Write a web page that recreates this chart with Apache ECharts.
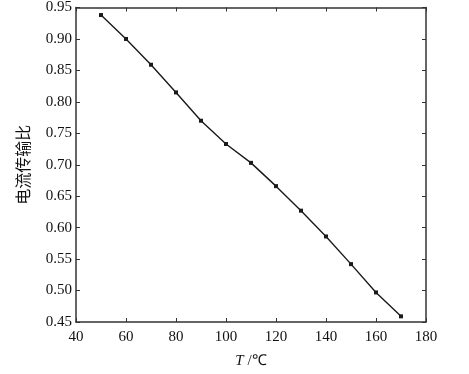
<!DOCTYPE html>
<html>
<head>
<meta charset="utf-8">
<script src="https://cdn.jsdelivr.net/npm/echarts@6/dist/echarts.min.js"></script>
<style>html,body{margin:0;padding:0;background:#fff;}#c{width:469px;height:374px;}</style>
</head>
<body>
<div id="c"></div>
<script>
var temperatures = [50, 60, 70, 80, 90, 100, 110, 120, 130, 140, 150, 160, 170];
var ctrValues = [0.938, 0.900, 0.859, 0.815, 0.770, 0.733, 0.703, 0.666, 0.627, 0.586, 0.542, 0.497, 0.459];
var yAxisName = '电流传输比';
var xAxisNameVar = 'T';
var xAxisUnit = ' /℃';

var chart = echarts.init(document.getElementById('c'));
var serif = '"Liberation Serif", "Times New Roman", serif';
var axisColor = '#333';
var pts = temperatures.map(function (t, i) { return [t, ctrValues[i]]; });

chart.setOption({
  animation: false,
  backgroundColor: '#fff',
  grid: { left: 76, top: 3, right: 43, bottom: 48, containLabel: false },
  xAxis: [{
    type: 'value', min: 40, max: 180, interval: 20, position: 'bottom',
    name: '{i|' + xAxisNameVar + '}{n|' + xAxisUnit + '}',
    nameLocation: 'middle', nameGap: 32,
    nameTextStyle: { rich: {
      i: { fontFamily: serif, fontStyle: 'italic', fontSize: 15, color: '#111' },
      n: { fontFamily: serif, fontSize: 15, color: '#111' } } },
    axisLine: { show: true, lineStyle: { color: axisColor, width: 1.5 } },
    axisTick: { show: true, inside: true, length: 4, lineStyle: { color: axisColor, width: 1 } },
    axisLabel: { fontFamily: serif, fontSize: 15, color: '#111', margin: 8 },
    splitLine: { show: false }
  }, {
    type: 'value', min: 40, max: 180, interval: 20, position: 'top',
    axisLine: { show: true, lineStyle: { color: axisColor, width: 1.5 } },
    axisTick: { show: true, inside: true, length: 4, lineStyle: { color: axisColor, width: 1 } },
    axisLabel: { show: false }, splitLine: { show: false }
  }],
  yAxis: [{
    type: 'value', min: 0.45, max: 0.95, interval: 0.05, position: 'left',
    name: yAxisName, nameLocation: 'middle', nameGap: 45, nameRotate: 90,
    nameTextStyle: { fontFamily: '"Noto Sans CJK SC", sans-serif', fontSize: 16, color: '#111' },
    axisLine: { show: true, lineStyle: { color: axisColor, width: 1.5 } },
    axisTick: { show: true, inside: true, length: 4, lineStyle: { color: axisColor, width: 1 } },
    axisLabel: { fontFamily: serif, fontSize: 15, color: '#111', margin: 4,
      formatter: function (v) { return v.toFixed(2); } },
    splitLine: { show: false }
  }, {
    type: 'value', min: 0.45, max: 0.95, interval: 0.05, position: 'right',
    axisLine: { show: true, lineStyle: { color: axisColor, width: 1.5 } },
    axisTick: { show: true, inside: true, length: 4, lineStyle: { color: axisColor, width: 1 } },
    axisLabel: { show: false }, splitLine: { show: false }
  }],
  series: [{
    type: 'line', xAxisIndex: 0, yAxisIndex: 0, data: pts,
    symbol: 'rect', symbolSize: 4, showSymbol: true,
    lineStyle: { color: '#1a1a1a', width: 1.4 },
    itemStyle: { color: '#1a1a1a' }
  }]
});
</script>
</body>
</html>
